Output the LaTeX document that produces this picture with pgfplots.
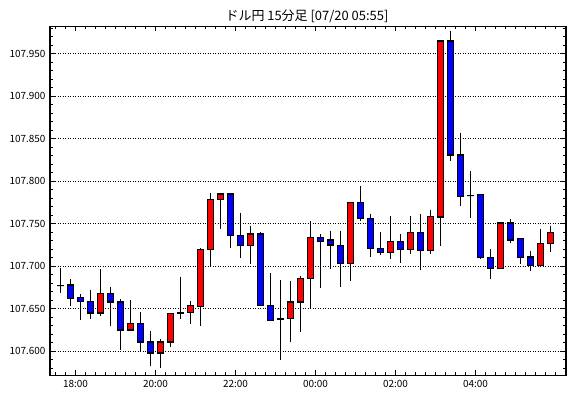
\documentclass[border=0pt]{standalone}
\usepackage{fontspec}
\setmainfont{Noto Sans CJK JP}
\usepackage{pgfplots}
\usepackage{pgfplotstable}
\pgfplotsset{compat=1.18}
\usepgfplotslibrary{statistics}
\definecolor{candleup}{RGB}{255,0,0}
\definecolor{candledown}{RGB}{0,0,255}
\pgfplotstableread{
i o h l c
0 107.677 107.698 107.669 107.677
1 107.678 107.685 107.653 107.662
2 107.663 107.667 107.637 107.659
3 107.659 107.672 107.638 107.645
4 107.645 107.697 107.641 107.668
5 107.668 107.676 107.630 107.658
6 107.658 107.661 107.602 107.625
7 107.625 107.660 107.625 107.633
8 107.633 107.646 107.600 107.611
9 107.611 107.624 107.583 107.598
10 107.598 107.615 107.580 107.611
11 107.611 107.644 107.605 107.644
12 107.644 107.687 107.638 107.646
13 107.646 107.659 107.632 107.654
14 107.653 107.721 107.630 107.720
15 107.720 107.786 107.700 107.779
16 107.779 107.786 107.744 107.785
17 107.785 107.786 107.721 107.736
18 107.736 107.763 107.710 107.724
19 107.724 107.747 107.703 107.738
20 107.738 107.740 107.654 107.654
21 107.654 107.692 107.636 107.636
22 107.638 107.684 107.590 107.638
23 107.639 107.683 107.611 107.658
24 107.658 107.689 107.623 107.686
25 107.686 107.753 107.651 107.734
26 107.734 107.738 107.675 107.729
27 107.731 107.742 107.697 107.725
28 107.724 107.742 107.676 107.703
29 107.703 107.775 107.683 107.775
30 107.775 107.795 107.753 107.756
31 107.756 107.762 107.711 107.721
32 107.721 107.740 107.713 107.716
33 107.716 107.759 107.708 107.729
34 107.729 107.738 107.704 107.720
35 107.720 107.759 107.714 107.740
36 107.740 107.762 107.696 107.719
37 107.719 107.766 107.714 107.759
38 107.758 107.966 107.724 107.965
39 107.965 107.977 107.824 107.831
40 107.831 107.857 107.771 107.782
41 107.783 107.812 107.757 107.783
42 107.784 107.785 107.709 107.710
43 107.710 107.720 107.685 107.697
44 107.697 107.752 107.697 107.751
45 107.751 107.756 107.727 107.731
46 107.733 107.733 107.703 107.710
47 107.711 107.718 107.695 107.701
48 107.701 107.744 107.701 107.727
49 107.727 107.747 107.717 107.740
}\candles
% values are plotted as (price - 107.600) * 1000, ticks are labelled in price
\newcommand\getpip[2]{%
  \pgfplotstablegetelem{#1}{#2}\of\candles
  \pgfmathparse{(\pgfplotsretval-107.6)*1000}%
}
\begin{document}
\begin{tikzpicture}
\path[use as bounding box] (0,0) rectangle (570bp,398bp);
\begin{axis}[
  at={(50bp,22.5bp)}, anchor=south west,
  scale only axis, width=516bp, height=349bp,
  xmin=-1.05, xmax=50.55,
  ymin=-28.5, ymax=382.1,
  axis line style={line width=1.2bp, black},
  tick align=inside,
  every tick/.style={black, line width=1bp},
  major tick length=5bp, minor tick length=3bp,
  xtick={1.5,9.5,17.5,25.5,33.5,41.5},
  xticklabels={18:00,20:00,22:00,00:00,02:00,04:00},
  minor xtick={-0.5,0.5,...,49.5},
  ytick={0,50,...,350},
  yticklabels={107.600,107.650,107.700,107.750,107.800,107.850,107.900,107.950},
  minor ytick={-20,-10,...,380},
  ymajorgrids,
  major grid style={black, line width=0.9bp, dash pattern=on 0.9bp off 1.6bp},
  tick label style={font=\fontsize{10}{10}\selectfont},
  /pgf/number format/assume math mode=true,
  yticklabel style={xshift=-1bp},
  xticklabel style={yshift=-1.5bp},
  boxplot/draw direction=y,
  clip=false,
]
\pgfplotsinvokeforeach{0,...,49}{
  \getpip{#1}{o}\let\cO\pgfmathresult
  \getpip{#1}{h}\let\cH\pgfmathresult
  \getpip{#1}{l}\let\cL\pgfmathresult
  \getpip{#1}{c}\let\cC\pgfmathresult
  \ifdim\cC pt>\dimexpr\cO pt+0.3pt\relax
    \def\cCol{candleup}\let\cLo\cO\let\cHi\cC
  \else
    \ifdim\cC pt<\dimexpr\cO pt-0.3pt\relax
      \def\cCol{candledown}\let\cLo\cC\let\cHi\cO
    \else
      \def\cCol{black}\let\cLo\cC\let\cHi\cC
    \fi
  \fi
  \edef\cTmp{\noexpand\addplot[draw=black, fill=\cCol, line width=1.2bp, solid,
    boxplot prepared={draw position=#1, lower whisker=\cL, lower quartile=\cLo,
      median=\cLo, upper quartile=\cHi, upper whisker=\cH,
      box extend=0.62, whisker extend=0}] coordinates {};}
  \cTmp
}
\end{axis}
\node[font=\fontsize{13}{13}\selectfont] at (307bp,382bp) {ドル円 15分足 [07/20 05:55]};
\end{tikzpicture}
\end{document}
